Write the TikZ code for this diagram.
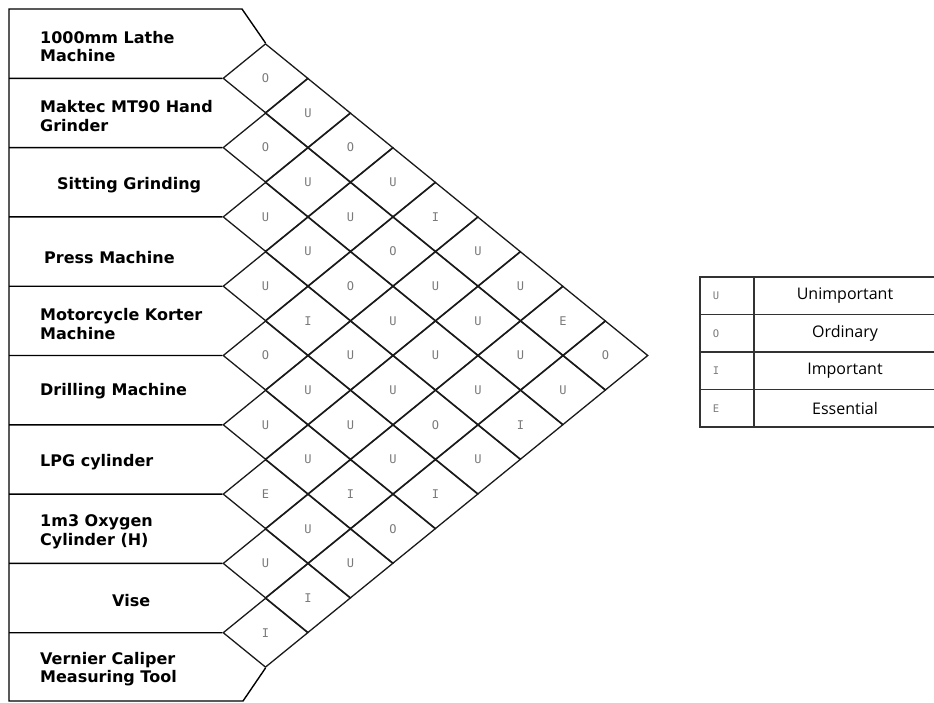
\documentclass[tikz,border=0pt]{standalone}
\usepackage{fontspec}
\setmainfont{DejaVu Sans}
\newfontfamily\codefont{DejaVu Sans Mono}
\newfontfamily\legendfont{Open Sans}
\usepackage{tikz}
\usetikzlibrary{positioning,shapes.geometric}
\usepackage{xcolor}
\definecolor{inkgray}{HTML}{7A7A7A}
\definecolor{gridline}{HTML}{1A1A1A}
\definecolor{tablerule}{HTML}{333333}

\begin{document}
\begin{tikzpicture}[x=1pt,y=-1pt,
    cell/.style={diamond, draw=gridline, line width=1.3pt, minimum width=85pt, minimum height=69.3pt,
                 inner sep=0pt, text=inkgray, font=\codefont\fontsize{12}{12}\selectfont},
    dept/.style={anchor=west, align=left, inner sep=0pt, font=\bfseries\fontsize{16}{18.5}\selectfont},
    keyrule/.style={draw=tablerule, line width=1.3pt},
    keyletter/.style={text=inkgray, font=\codefont\fontsize{10.5}{10.5}\selectfont},
    keytext/.style={font=\legendfont\fontsize{16}{16}\selectfont}]
    \useasboundingbox (0,0) rectangle (934,702);

    % Relationship cells, one diamond per pair of departments
    \foreach \i/\j/\r in {1/2/O, 1/3/U, 1/4/O, 1/5/U, 1/6/I, 1/7/U, 1/8/U, 1/9/E, 1/10/O,
                          2/3/O, 2/4/U, 2/5/U, 2/6/O, 2/7/U, 2/8/U, 2/9/U, 2/10/U,
                          3/4/U, 3/5/U, 3/6/O, 3/7/U, 3/8/U, 3/9/U, 3/10/I,
                          4/5/U, 4/6/I, 4/7/U, 4/8/U, 4/9/O, 4/10/U,
                          5/6/O, 5/7/U, 5/8/U, 5/9/U, 5/10/I,
                          6/7/U, 6/8/U, 6/9/I, 6/10/O,
                          7/8/E, 7/9/U, 7/10/U,
                          8/9/U, 8/10/I,
                          9/10/I} {
        \node[cell] (c\i-\j) at ({223+42.5*(\j-\i)}, {9+34.65*(\i+\j-1)}) {\r};
    }

    % Department boxes on the left
    \draw[line width=1.4pt] (c1-2.north) -- (242,9) -- (9,9) -- (9,701) -- (243,701) -- (c9-10.south);
    \foreach \k [count=\kk from 2] in {1,...,9} {
        \draw[line width=1.4pt] (9,{9+69.3*\k}) -- (c\k-\kk.west);
    }

    \foreach \k/\x/\dy/\txt in {1/40/3/{1000mm Lathe\\Machine}, 2/40/3/{Maktec MT90 Hand\\Grinder},
                                3/57/3/{Sitting Grinding}, 4/44/6/{Press Machine},
                                5/40/3/{Motorcycle Korter\\Machine}, 6/40/1/{Drilling Machine},
                                7/40/3/{LPG cylinder}, 8/40/3/{1m3 Oxygen\\Cylinder (H)},
                                9/112/2/{Vise}, 10/40/2/{Vernier Caliper\\Measuring Tool}} {
        \node[dept] (dept\k) at (\x, {9+69.3*(\k-0.5)+\dy}) {\txt};
    }

    % Legend
    \foreach \n/\c/\t in {0/U/Unimportant, 1/O/Ordinary, 2/I/Important, 3/E/Essential} {
        \draw[keyrule] (700,{277+37.5*\n}) rectangle (937,{314.5+37.5*\n});
        \node[keyletter] (key\c) at (716,{295.75+37.5*\n}) {\c};
        \node[keytext] (mean\c) at (845,{295.75+37.5*\n}) {\t};
    }
    \draw[keyrule] (754,277) -- (754,427);
\end{tikzpicture}
\end{document}
